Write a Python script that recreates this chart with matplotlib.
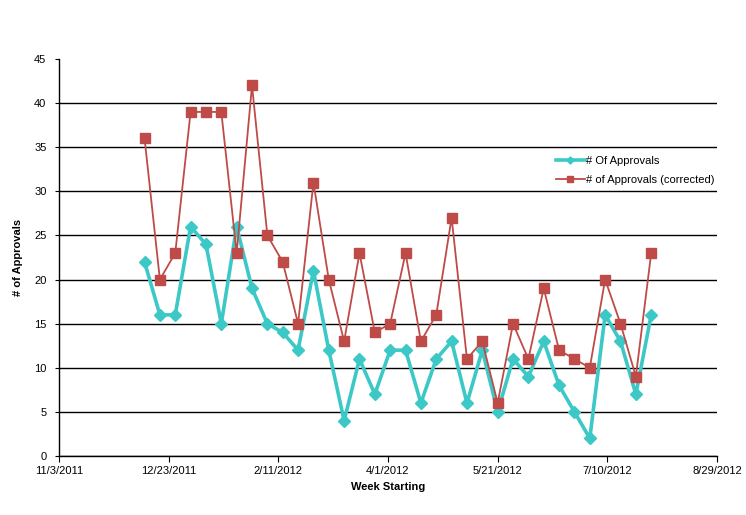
import datetime as dt
import matplotlib
matplotlib.use("Agg")
import matplotlib.pyplot as plt

plt.rcParams['font.family'] = ['Liberation Sans', 'DejaVu Sans']

# weekly data starting 12/12/2011
start = dt.date(2011, 12, 12)
approvals = [22, 16, 16, 26, 24, 15, 26, 19, 15, 14, 12, 21, 12, 4, 11, 7, 12,
             12, 6, 11, 13, 6, 12, 5, 11, 9, 13, 8, 5, 2, 16, 13, 7, 16]
corrected = [36, 20, 23, 39, 39, 39, 23, 42, 25, 22, 15, 31, 20, 13, 23, 14, 15,
             23, 13, 16, 27, 11, 13, 6, 15, 11, 19, 12, 11, 10, 20, 15, 9, 23]
weeks = [start + dt.timedelta(days=7 * i) for i in range(len(approvals))]

tick_dates = [dt.date(2011, 11, 3) + dt.timedelta(days=50 * i) for i in range(7)]
tick_labels = ["11/3/2011", "12/23/2011", "2/11/2012", "4/1/2012",
               "5/21/2012", "7/10/2012", "8/29/2012"]

fig = plt.figure(figsize=(7.46, 5.15), dpi=100)
ax = fig.add_axes([59 / 746, 1 - 456 / 515, (717 - 59) / 746, (456 - 59) / 515])

ax.plot(weeks, approvals, color='#3DC8C8', lw=2.6, marker='D', markersize=6,
        label='# Of Approvals')
ax.plot(weeks, corrected, color='#BE4B48', lw=1.3, marker='s', markersize=7,
        label='# of Approvals (corrected)')

ax.set_ylim(0, 45)
ax.set_yticks(range(0, 50, 5))
ax.set_xlim(tick_dates[0], tick_dates[-1])
ax.set_xticks(tick_dates)
ax.set_xticklabels(tick_labels)
ax.tick_params(labelsize=8, length=4, direction='out', colors='black')
ax.tick_params(axis='y', length=3, pad=6)

ax.grid(axis='y', color='black', lw=1)
ax.yaxis.get_gridlines()[-1].set_visible(False)
ax.set_axisbelow(True)
for s in ['top', 'right']:
    ax.spines[s].set_visible(False)
ax.spines['bottom'].set_linewidth(1)
ax.spines['left'].set_linewidth(1)

ax.set_xlabel('Week Starting', fontsize=8, fontweight='bold', labelpad=4)
ax.set_ylabel('# of Approvals', fontsize=8, fontweight='bold', labelpad=8)

leg = ax.legend(loc='upper left', bbox_to_anchor=(0.74, 0.78), frameon=False,
                fontsize=8, handlelength=2.6, handletextpad=0.1, markerscale=0.6,
                labelspacing=0.8)

fig.savefig('out.png', dpi=100)
